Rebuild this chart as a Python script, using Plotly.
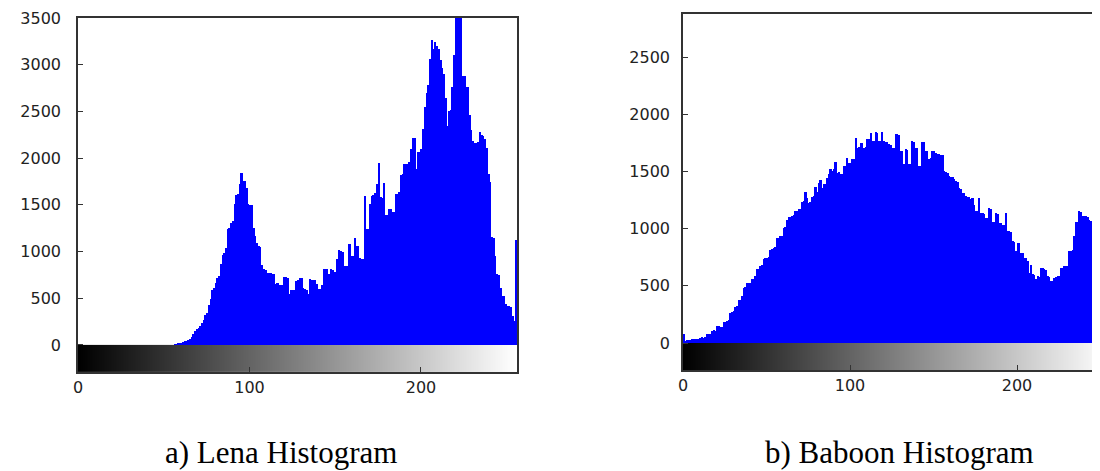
import numpy as np
import plotly.graph_objects as go

# ---------------- data ----------------
gray_levels = list(range(256))

lena_counts = [0] * 56 + [
    5, 8, 12, 18, 25, 30, 40, 45,
    50, 62, 80, 120, 150, 170, 185, 200,
    240, 270, 320, 340, 425, 490, 590, 610,
    660, 720, 740, 865, 960, 980, 1035, 1240,
    1250, 1310, 1330, 1505, 1600, 1620, 1720, 1843,
    1760, 1750, 1680, 1505, 1500, 1500, 1257, 1168,
    1096, 1060, 1050, 853, 815, 805, 768, 765,
    768, 757, 755, 657, 660, 640, 645, 640,
    728, 725, 718, 550, 585, 590, 585, 685,
    690, 720, 720, 614, 596, 590, 550, 703,
    700, 696, 690, 650, 596, 600, 640, 810,
    818, 815, 764, 810, 805, 782, 780, 918,
    1018, 1010, 996, 840, 840, 845, 1078, 953,
    950, 1150, 1060, 1055, 935, 918, 920, 1596,
    1240, 1245, 1507, 1596, 1600, 1630, 1725, 1953,
    1580, 1575, 1735, 1390, 1389, 1460, 1455, 1418,
    1420, 1614, 1620, 1640, 1821, 1825, 1932, 1935,
    1940, 1957, 2093, 2214, 2210, 1885, 2064, 2070,
    2093, 2307, 2546, 2700, 2785, 3057, 3260, 3171,
    3243, 3200, 3164, 3046, 2960, 2903, 2643, 2342,
    2500, 2510, 2760, 3107, 3600, 3800, 3750, 3650,
    2878, 2880, 2760, 2757, 2457, 2300, 2178, 2164,
    2165, 2170, 2278, 2243, 2240, 2207, 2107, 1825,
    1739, 1160, 1150, 953, 757, 750, 614, 525,
    520, 435, 420, 418, 410, 310, 257, 1120,
]

baboon_counts = [
    78, 20, 22, 24, 25, 32, 35, 35,
    38, 36, 45, 50, 48, 55, 75, 78,
    80, 105, 110, 108, 150, 145, 136, 140,
    185, 188, 194, 198, 266, 270, 281, 318,
    322, 376, 380, 411, 483, 490, 521, 525,
    527, 556, 560, 585, 643, 650, 672, 680,
    735, 744, 745, 748, 816, 820, 831, 835,
    918, 920, 932, 935, 1005, 1010, 1077, 1100,
    1105, 1112, 1115, 1150, 1155, 1170, 1172, 1236,
    1240, 1323, 1265, 1227, 1230, 1280, 1285, 1366,
    1323, 1395, 1425, 1352, 1388, 1390, 1446, 1480,
    1519, 1500, 1520, 1586, 1490, 1495, 1475, 1480,
    1548, 1550, 1621, 1571, 1575, 1606, 1610, 1796,
    1708, 1712, 1746, 1750, 1708, 1712, 1781, 1785,
    1834, 1766, 1770, 1845, 1840, 1766, 1765, 1845,
    1766, 1760, 1760, 1737, 1730, 1708, 1705, 1831,
    1825, 1820, 1679, 1675, 1562, 1694, 1690, 1562,
    1565, 1766, 1760, 1708, 1705, 1548, 1550, 1758,
    1755, 1679, 1675, 1612, 1615, 1679, 1675, 1659,
    1655, 1650, 1645, 1640, 1504, 1495, 1490, 1460,
    1455, 1450, 1431, 1420, 1410, 1358, 1350, 1315,
    1310, 1286, 1280, 1275, 1256, 1271, 1207, 1150,
    1150, 1265, 1135, 1135, 1130, 1091, 1090, 1178,
    1170, 1062, 1060, 1135, 1130, 1048, 1045, 1033,
    1030, 1135, 975, 975, 970, 889, 885, 802,
    874, 870, 787, 785, 744, 740, 715, 614,
    686, 599, 595, 556, 585, 580, 657, 655,
    643, 640, 585, 580, 541, 540, 570, 575,
    585, 590, 657, 660, 672, 675, 670, 802,
    805, 816, 932, 1054, 1060, 1150, 1145, 1106,
    1110, 1106, 1100, 1075, 1070, 960, 944, 842,
    667, 660, 600, 560, 520, 480, 430, 400,
]

lena_yticks = [0, 500, 1000, 1500, 2000, 2500, 3000, 3500]
baboon_yticks = [0, 500, 1000, 1500, 2000, 2500]
x_ticks = [0, 100, 200]
captions = ["a) Lena Histogram", "b) Baboon Histogram"]

# ---------------- figure ----------------
W, H = 1100, 471
OFF = 8  # page body margin offset


def fx(px):
    return (px - OFF) / W


def fy(py):
    return 1 - (py - OFF) / H


bin_centers = np.array(gray_levels) + 0.5
bin_edges = list(range(257))

fig = go.Figure()

lena_bottom = -290
baboon_bottom = -236

# gradient bars
fig.add_trace(go.Heatmap(
    z=[gray_levels], x=bin_edges, y=[lena_bottom, 0],
    colorscale=[[0, "#000000"], [1, "#ffffff"]], showscale=False,
    xaxis="x", yaxis="y", hoverinfo="skip"))
fig.add_trace(go.Heatmap(
    z=[gray_levels], x=bin_edges, y=[baboon_bottom, 0],
    colorscale=[[0, "#000000"], [1, "#ffffff"]], showscale=False,
    xaxis="x2", yaxis="y2", hoverinfo="skip"))

# histograms
fig.add_trace(go.Bar(x=bin_centers, y=lena_counts, width=1.0,
                     marker=dict(color="#0000ff", line=dict(width=0)),
                     xaxis="x", yaxis="y", showlegend=False))
fig.add_trace(go.Bar(x=bin_centers, y=baboon_counts, width=1.0,
                     marker=dict(color="#0000ff", line=dict(width=0)),
                     xaxis="x2", yaxis="y2", showlegend=False))

tickfont = dict(family="DejaVu Sans", size=16, color="#222222")
axis_common = dict(showgrid=False, zeroline=False, showline=True,
                   linecolor="#333333", linewidth=1.5,
                   ticks="inside", ticklen=5, tickcolor="#333333",
                   tickfont=tickfont, automargin=False)

fig.update_layout(
    width=W, height=H,
    margin=dict(l=0, r=0, t=0, b=0, autoexpand=False),
    paper_bgcolor="white", plot_bgcolor="white",
    bargap=0, showlegend=False,
    xaxis=dict(domain=[fx(78), fx(517)], range=[0, 256],
               tickvals=x_ticks, mirror=True, ticklabelstandoff=0,
               anchor="y", **axis_common),
    yaxis=dict(domain=[fy(372), fy(18)],
               range=[lena_bottom, 3500], tickvals=lena_yticks,
               mirror=True, ticklabelstandoff=12, anchor="x",
               **axis_common),
    xaxis2=dict(domain=[fx(683), fx(1100)], range=[0, 249.7],
                tickvals=x_ticks, mirror=True, ticklabelstandoff=0,
                anchor="y2", **axis_common),
    yaxis2=dict(domain=[fy(370), fy(14)],
                range=[baboon_bottom, 2876], tickvals=baboon_yticks,
                mirror=False, ticklabelstandoff=8, anchor="x2",
                **axis_common),
)

fig.add_annotation(text=captions[0], x=fx(281), y=fy(452),
                   xref="paper", yref="paper", showarrow=False,
                   xanchor="center", yanchor="middle",
                   font=dict(family="Liberation Serif", size=31, color="black"))
fig.add_annotation(text=captions[1], x=fx(899), y=fy(452),
                   xref="paper", yref="paper", showarrow=False,
                   xanchor="center", yanchor="middle",
                   font=dict(family="Liberation Serif", size=31, color="black"))

fig.write_html("out.html")
